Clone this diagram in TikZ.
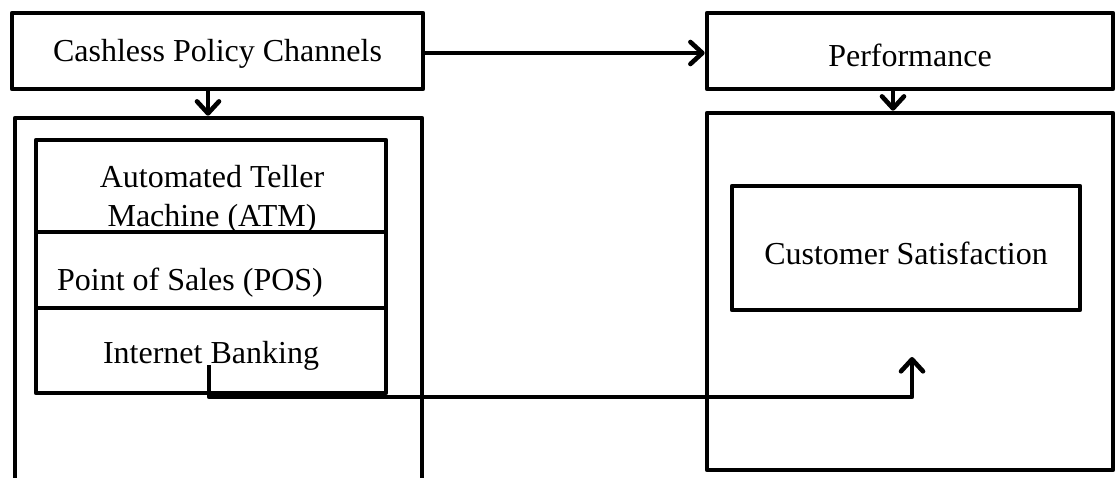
\documentclass[tikz,border=0pt]{standalone}
\usepackage{fontspec}
\setmainfont{Liberation Serif}
\usetikzlibrary{arrows.meta}
\tikzset{
  box/.style={draw=black, line width=4.6pt, rectangle, inner sep=0pt, line join=round},
  txt/.style={inner sep=0pt, align=center, font=\fontsize{32}{37}\selectfont},
  conn/.style={draw=black, line width=4.6pt, line join=round,
    -{Straight Barb[length=12pt, width=22pt, line cap=round, line join=round]}}
}
\begin{document}
\begin{tikzpicture}[x=1pt, y=-1pt]
\useasboundingbox (0,0) rectangle (1116,477);
\begin{scope}
\clip (0,0) rectangle (1116,477);
% top row
\node[box, minimum width=411pt, minimum height=76pt] (cpc) at (217.5,51) {};
\node[txt] (cpct) at (217.5,54) {Cashless Policy Channels};
\node[box, minimum width=406pt, minimum height=76pt] (perf) at (910,51) {};
\node[txt] (perft) at (910,55) {Performance};
% left column: the outer frame runs past the lower edge
\node[box, minimum width=407pt, minimum height=400pt] (left) at (218.5,318) {};
% channels
\node[box, minimum width=350pt, minimum height=92pt] (atm) at (211,186) {};
\node[txt] (atmt) at (212,199) {Automated Teller\\[2pt]Machine (ATM)};
\node[box, minimum width=350pt, minimum height=76pt] (pos) at (211,270) {};
\node[txt] (post) at (190,283) {Point of Sales (POS)};
\node[box, minimum width=350pt, minimum height=85pt] (ib) at (211,350.5) {};
\node[txt] (ibt) at (211,356) {Internet Banking};
% right column
\node[box, minimum width=406pt, minimum height=357pt] (right) at (910,291.5) {};
\node[box, minimum width=348pt, minimum height=124pt] (cs) at (906,248) {};
\node[txt] (cst) at (906,253) {Customer Satisfaction};
\end{scope}
% connectors
\coordinate (ibfoot) at (209,365);
\coordinate (csin) at (912,357);
\draw[conn] (cpc.east |- 0,53) -- (perf.west |- 0,53);
\draw[conn] (cpc.south -| 208,0) -- (left.north -| 208,0);
\draw[conn] (perf.south -| 893,0) -- (right.north -| 893,0);
\draw[conn] (ibfoot) -- (209,397) -- (912,397) -- (csin);
\end{tikzpicture}
\end{document}
